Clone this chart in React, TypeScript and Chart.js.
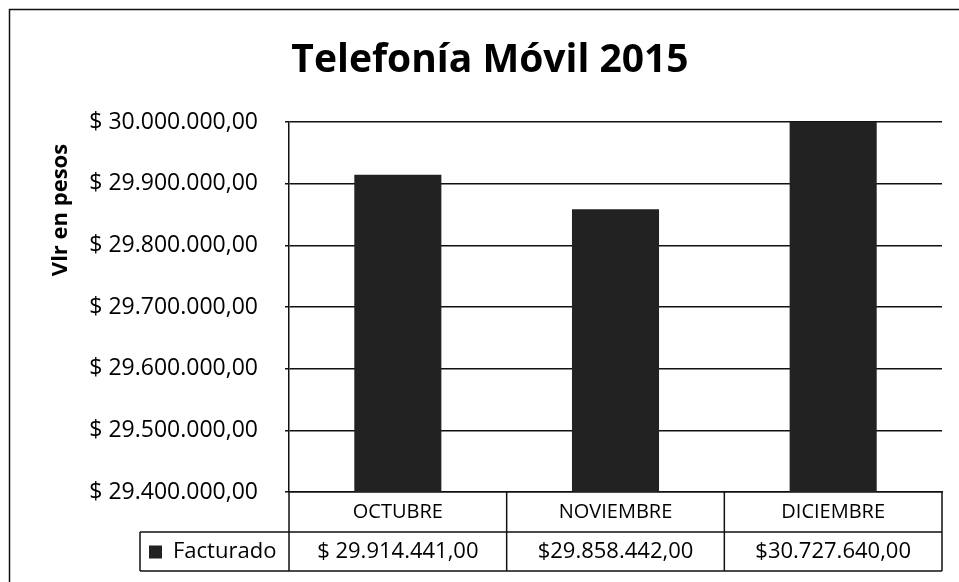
import React, { useEffect, useRef } from "react";
import { Chart, registerables } from "chart.js";

Chart.register(...registerables);

// ---- data ----
const categories = ["OCTUBRE", "NOVIEMBRE", "DICIEMBRE"];
const facturado = [29914441, 29858442, 30727640];
const seriesName = "Facturado";
const chartTitle = "Telefonía Móvil 2015";
const yAxisTitle = "Vlr en pesos";
const yMin = 29400000;
const yMax = 30000000;
const yStep = 100000;

const FONT = "'Open Sans', sans-serif";
const INK = "#111111";
const BAR = "#222222";

function formatPesos(v: number, space: boolean): string {
  const parts = Math.abs(v).toFixed(2).split(".");
  const withDots = parts[0].replace(/\B(?=(\d{3})+(?!\d))/g, ".");
  return "$" + (space ? " " : "") + withDots + "," + parts[1];
}

const decorPlugin = {
  id: "excelDecor",
  afterDraw(chart: any) {
    const { ctx, chartArea } = chart;
    const xs = chart.scales.x;
    const n = categories.length;
    const half = (xs.getPixelForValue(1) - xs.getPixelForValue(0)) / 2;
    const bounds: number[] = [];
    for (let i = 0; i < n; i++) bounds.push(xs.getPixelForValue(i) - half);
    bounds.push(xs.getPixelForValue(n - 1) + half);

    const top = chartArea.bottom;
    const row2 = top + 40;
    const bottom = row2 + 39;
    const legendLeft = 140;

    ctx.save();
    // outer chart border (left & top)
    ctx.strokeStyle = INK;
    ctx.lineWidth = 1.5;
    ctx.beginPath();
    ctx.moveTo(9.5, chart.height);
    ctx.lineTo(9.5, 9.5);
    ctx.lineTo(chart.width, 9.5);
    ctx.stroke();

    // title
    ctx.fillStyle = "#000";
    ctx.font = `bold 39px ${FONT}`;
    ctx.textAlign = "center";
    ctx.textBaseline = "alphabetic";
    ctx.fillText(chartTitle, 490, 72);

    // y axis title
    ctx.save();
    ctx.translate(61, 210);
    ctx.rotate(-Math.PI / 2);
    ctx.font = `bold 22px ${FONT}`;
    ctx.textAlign = "center";
    ctx.textBaseline = "middle";
    ctx.fillText(yAxisTitle, 0, 0);
    ctx.restore();

    // data table lines
    ctx.strokeStyle = INK;
    ctx.lineWidth = 1.5;
    ctx.beginPath();
    ctx.moveTo(legendLeft, row2);
    ctx.lineTo(bounds[n], row2);
    ctx.moveTo(legendLeft, bottom);
    ctx.lineTo(bounds[n], bottom);
    bounds.forEach((b) => {
      ctx.moveTo(b, top);
      ctx.lineTo(b, bottom);
    });
    ctx.moveTo(legendLeft, row2);
    ctx.lineTo(legendLeft, bottom);
    ctx.stroke();

    // values row
    ctx.fillStyle = "#000";
    ctx.font = `22px ${FONT}`;
    ctx.textAlign = "center";
    ctx.textBaseline = "middle";
    const midY = (row2 + bottom) / 2;
    facturado.forEach((v, i) => {
      ctx.fillText(formatPesos(v, i === 0), xs.getPixelForValue(i), midY);
    });

    // legend key cell
    ctx.fillStyle = BAR;
    ctx.fillRect(legendLeft + 9, midY - 6, 13, 13);
    ctx.fillStyle = "#000";
    ctx.font = `22px ${FONT}`;
    ctx.textAlign = "left";
    ctx.fillText(seriesName, legendLeft + 33, midY);
    ctx.restore();
  },
};

export default function App() {
  const canvasRef = useRef<HTMLCanvasElement | null>(null);

  useEffect(() => {
    if (!canvasRef.current) return;
    const chart = new Chart(canvasRef.current, {
      type: "bar",
      data: {
        labels: categories,
        datasets: [
          {
            label: seriesName,
            data: facturado,
            backgroundColor: BAR,
            borderWidth: 0,
            barPercentage: 0.4,
            categoryPercentage: 1,
          },
        ],
      },
      options: {
        responsive: false,
        animation: false,
        layout: { padding: { top: 122, right: 17, bottom: 50, left: 0 } },
        plugins: {
          legend: { display: false },
          title: { display: false },
          tooltip: { enabled: false },
        },
        scales: {
          x: {
            grid: { display: false, drawTicks: false },
            border: { display: true, color: INK, width: 1.5 },
            ticks: { color: "#000", font: { family: FONT, size: 20 }, padding: 8 },
            afterFit(s: any) {
              s.height = 40;
            },
          },
          y: {
            min: yMin,
            max: yMax,
            ticks: {
              stepSize: yStep,
              color: "#000",
              font: { family: FONT, size: 23 },
              padding: 27,
              callback: (v: any) => formatPesos(Number(v), true),
            },
            grid: { color: INK, lineWidth: 1.5, tickLength: 4, drawTicks: true },
            border: { display: true, color: INK, width: 1.5 },
            afterFit(s: any) {
              s.width = 289;
            },
          },
        },
      },
      plugins: [decorPlugin],
    });
    return () => chart.destroy();
  }, []);

  return (
    <div style={{ position: "absolute", left: 0, top: 0, width: 959, height: 582, background: "#fff" }}>
      <canvas ref={canvasRef} width={959} height={582} style={{ display: "block" }} />
    </div>
  );
}
